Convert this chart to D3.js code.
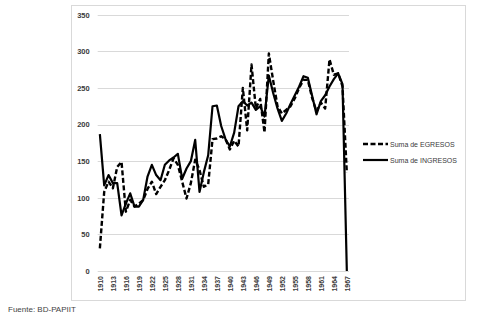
<!DOCTYPE html>
<html>
<head>
<meta charset="utf-8">
<script src="https://cdn.jsdelivr.net/npm/d3@7"></script>
<style>
  body { margin: 0; background: #fff; }
  svg { display: block; font-family: "Liberation Sans", Arial, sans-serif; }
</style>
</head>
<body>
<div id="chart"></div>
<script>
// Years 1910-1967 (one category per year)
const years = d3.range(1910, 1968);

// Suma de EGRESOS (dashed)
const egresos = [
  31, 108, 122, 113, 142, 149, 81, 97, 88, 92,
  97, 112, 122, 105, 115, 124, 138, 154, 145, 122,
  99, 120, 152, 138, 115, 118, 180, 181, 184, 180,
  166, 178, 170, 250, 192, 282, 222, 235, 189, 297,
  260, 225, 215, 220, 225, 236, 250, 261, 261, 236,
  218, 230, 222, 289, 268, 270, 252, 134
];

// Suma de INGRESOS (solid)
const ingresos = [
  187, 117, 131, 120, 120, 76, 92, 106, 88, 88,
  97, 129, 145, 131, 124, 145, 151, 155, 160, 126,
  140, 150, 179, 108, 135, 158, 225, 226, 198, 180,
  170, 189, 225, 232, 226, 230, 220, 225, 211, 267,
  243, 222, 205, 215, 228, 240, 252, 266, 264, 239,
  214, 232, 240, 252, 262, 270, 255, 0
];

const yTicks = [0, 50, 100, 150, 200, 250, 300, 350];
const xLabels = years.filter((d, i) => i % 3 === 0);

const seriesNames = ["Suma de EGRESOS", "Suma de INGRESOS"];

const W = 500, H = 317;
const plot = {left: 97.7, right: 349, top: 14.7, bottom: 271};

const svg = d3.select("#chart")
  .append("svg")
    .attr("width", W)
    .attr("height", H);

// outer border of the chart area
svg.append("rect")
  .attr("x", 71.5).attr("y", 5.5)
  .attr("width", 394).attr("height", 295)
  .attr("fill", "none")
  .attr("stroke", "#d9d9d9");

const x = d3.scalePoint()
  .domain(years)
  .range([plot.left, plot.right])
  .padding(0.5);

const y = d3.scaleLinear()
  .domain([0, 350])
  .range([plot.bottom, plot.top]);

// gridlines
svg.append("g")
  .selectAll("line")
  .data(yTicks)
  .join("line")
    .attr("x1", plot.left)
    .attr("x2", plot.right)
    .attr("y1", d => Math.round(y(d)) + 0.5)
    .attr("y2", d => Math.round(y(d)) + 0.5)
    .attr("stroke", "#d9d9d9")
    .attr("stroke-width", 1);

// Y axis labels
const yAxis = svg.append("g")
  .attr("transform", `translate(${plot.left - 8},0)`)
  .call(d3.axisLeft(y).tickValues(yTicks).tickSize(0).tickPadding(0));
yAxis.select(".domain").remove();
yAxis.selectAll("text")
  .attr("font-family", "Liberation Sans, Arial, sans-serif")
  .attr("font-size", 7.5)
  .attr("font-weight", "bold")
  .attr("fill", "#3a3a3a");

// X axis labels (rotated)
const xAxis = svg.append("g")
  .attr("transform", `translate(0,${plot.bottom + 5})`)
  .call(d3.axisBottom(x).tickValues(xLabels).tickSize(0).tickPadding(0));
xAxis.select(".domain").remove();
xAxis.selectAll("text")
  .attr("transform", "rotate(-90)")
  .attr("text-anchor", "end")
  .attr("dy", "0.32em")
  .attr("x", 0)
  .attr("y", 0)
  .attr("font-family", "Liberation Sans, Arial, sans-serif")
  .attr("font-size", 7)
  .attr("font-weight", "bold")
  .attr("fill", "#3a3a3a");

const line = d3.line()
  .x((d, i) => x(years[i]))
  .y(d => y(d))
  .curve(d3.curveLinear);

// EGRESOS dashed
svg.append("path")
  .datum(egresos)
  .attr("fill", "none")
  .attr("stroke", "#000")
  .attr("stroke-width", 2.4)
  .attr("stroke-dasharray", "5,2.5")
  .attr("stroke-linejoin", "round")
  .attr("d", line);

// INGRESOS solid
svg.append("path")
  .datum(ingresos)
  .attr("fill", "none")
  .attr("stroke", "#000")
  .attr("stroke-width", 2.2)
  .attr("stroke-linejoin", "round")
  .attr("d", line);

// Legend
const legend = svg.append("g");
seriesNames.forEach((name, i) => {
  const ly = 144 + i * 16;
  legend.append("line")
    .attr("x1", 363).attr("x2", 388)
    .attr("y1", ly).attr("y2", ly)
    .attr("stroke", "#000")
    .attr("stroke-width", i === 0 ? 2.4 : 2.2)
    .attr("stroke-dasharray", i === 0 ? "5,2.5" : null);
  legend.append("text")
    .attr("x", 390)
    .attr("y", ly + 2.5)
    .attr("font-size", 7)
    .attr("fill", "#3a3a3a")
    .text(name);
});

// Source note
svg.append("text")
  .attr("x", 8)
  .attr("y", 312)
  .attr("font-size", 8)
  .attr("fill", "#444")
  .text("Fuente: BD-PAPIIT");
</script>
</body>
</html>
